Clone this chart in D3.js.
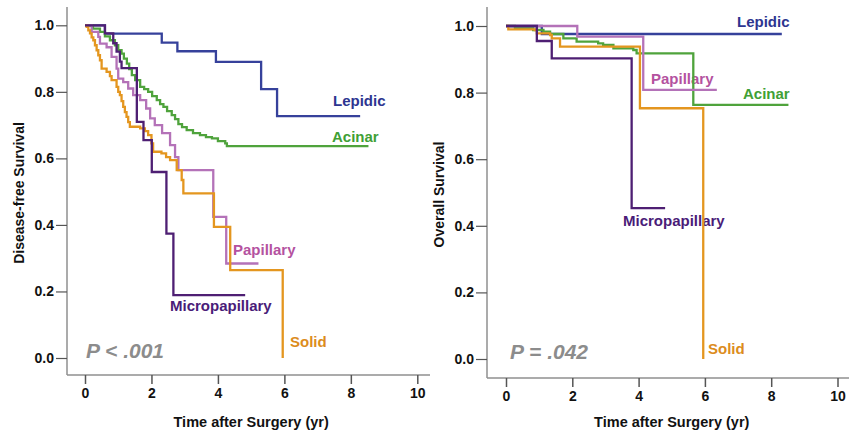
<!DOCTYPE html>
<html><head><meta charset="utf-8">
<script src="https://cdn.jsdelivr.net/npm/d3@7/dist/d3.min.js"></script>
<style>
body{margin:0;background:#fff}
svg{display:block;font-family:"Liberation Sans",Arial,Helvetica,sans-serif}
</style>
</head><body>
<svg id="chart" width="849" height="434"></svg>
<script>
// ---------- data ----------
const xTicks = [0, 2, 4, 6, 8, 10];
const yTicks = [0, 0.2, 0.4, 0.6, 0.8, 1.0];
const groups = ["Lepidic", "Acinar", "Papillary", "Micropapillary", "Solid"];
const panelTitles = ["Disease-free Survival", "Overall Survival"];
const xTitle = "Time after Surgery (yr)";
const pValues = ["P < .001", "P = .042"];

// Disease-free survival (left)
const dfsLepidicTime = [0.6, 2.31, 2.78, 3.94, 5.30, 5.78];
const dfsLepidicSurv = [0.975, 0.948, 0.922, 0.89, 0.808, 0.727];
const dfsLepidicEnd = 8.28;

const dfsAcinarTime = [0.24, 0.45, 0.6, 0.75, 0.9, 1.0, 1.1, 1.17, 1.26, 1.33, 1.41, 1.51, 1.66, 1.78, 1.9, 2.02, 2.16, 2.26, 2.36, 2.47, 2.61, 2.71, 2.81, 2.92, 3.06, 3.25, 3.46, 3.64, 3.82, 4.0, 4.22, 4.27];
const dfsAcinarSurv = [0.99, 0.98, 0.967, 0.955, 0.94, 0.925, 0.915, 0.90, 0.885, 0.868, 0.85, 0.835, 0.815, 0.808, 0.80, 0.787, 0.775, 0.763, 0.755, 0.742, 0.73, 0.718, 0.703, 0.694, 0.685, 0.676, 0.67, 0.664, 0.66, 0.652, 0.645, 0.637];
const dfsAcinarEnd = 8.53;

const dfsPapillaryTime = [0.2, 0.4, 0.45, 0.65, 0.8, 0.95, 1.0, 1.15, 1.3, 1.45, 1.66, 1.84, 1.96, 2.1, 2.32, 2.56, 2.71, 2.81, 3.86, 4.25];
const dfsPapillarySurv = [0.98, 0.965, 0.945, 0.934, 0.905, 0.87, 0.84, 0.829, 0.81, 0.79, 0.775, 0.75, 0.72, 0.70, 0.676, 0.64, 0.604, 0.565, 0.424, 0.284];
const dfsPapillaryEnd = 5.22;

const dfsMicroTime = [0.6, 0.85, 0.95, 1.05, 1.1, 1.56, 1.76, 2.01, 2.45, 2.66];
const dfsMicroSurv = [0.976, 0.946, 0.921, 0.891, 0.871, 0.71, 0.655, 0.559, 0.374, 0.189];
const dfsMicroEnd = 4.82;

const dfsSolidTime = [0.05, 0.1, 0.15, 0.2, 0.25, 0.3, 0.35, 0.4, 0.45, 0.5, 0.65, 0.75, 0.8, 0.95, 1.0, 1.05, 1.1, 1.15, 1.2, 1.25, 1.3, 1.35, 1.66, 1.8, 1.9, 2.0, 2.05, 2.3, 2.44, 2.56, 2.76, 2.91, 2.96, 3.88, 4.37, 5.95];
const dfsSolidSurv = [0.995, 0.985, 0.976, 0.964, 0.955, 0.94, 0.925, 0.91, 0.895, 0.87, 0.86, 0.847, 0.835, 0.815, 0.80, 0.79, 0.772, 0.755, 0.739, 0.725, 0.709, 0.695, 0.69, 0.682, 0.67, 0.645, 0.62, 0.615, 0.604, 0.595, 0.565, 0.535, 0.495, 0.394, 0.264, 0.0];
const dfsSolidEnd = 5.95;

// Overall survival (right)
const osLepidicTime = [1.08];
const osLepidicSurv = [0.976];
const osLepidicEnd = 8.32;

const osAcinarTime = [0.27, 0.82, 1.13, 1.33, 1.73, 2.13, 2.78, 2.93, 3.24, 3.84, 3.94, 5.65];
const osAcinarSurv = [0.994, 0.988, 0.983, 0.976, 0.963, 0.953, 0.948, 0.943, 0.933, 0.928, 0.918, 0.763];
const osAcinarEnd = 8.52;

const osPapillaryTime = [2.15, 4.14];
const osPapillarySurv = [0.968, 0.808];
const osPapillaryEnd = 6.36;

const osMicroTime = [0.93, 1.38, 3.79];
const osMicroSurv = [0.955, 0.903, 0.453];
const osMicroEnd = 4.8;

const osSolidTime = [0.07, 0.87, 0.93, 1.33, 1.38, 1.63, 4.04, 5.95];
const osSolidSurv = [0.99, 0.988, 0.978, 0.973, 0.963, 0.938, 0.753, 0.0];
const osSolidEnd = 5.95;

// ---------- styles ----------
const lineColors = {Lepidic: "#36419b", Acinar: "#4fa33c", Papillary: "#b472b8", Micropapillary: "#4e1f73", Solid: "#e4961f"};
const labelColors = {Lepidic: "#2d3590", Acinar: "#40a035", Papillary: "#b4529f", Micropapillary: "#4a1c78", Solid: "#dc8c1c"};

const panels = [
  {
    series: {
      Lepidic: [dfsLepidicTime, dfsLepidicSurv, dfsLepidicEnd],
      Acinar: [dfsAcinarTime, dfsAcinarSurv, dfsAcinarEnd],
      Papillary: [dfsPapillaryTime, dfsPapillarySurv, dfsPapillaryEnd],
      Micropapillary: [dfsMicroTime, dfsMicroSurv, dfsMicroEnd],
      Solid: [dfsSolidTime, dfsSolidSurv, dfsSolidEnd]
    },
    title: panelTitles[0], p: pValues[0],
    xRange: [85, 417.3], yRange: [358, 25.3],
    axisX: 67, axisY: 375, axisTop: 7, axisRight: 430, titleX: 23.5,
    labels: {Lepidic: [333, 106], Acinar: [332, 142], Papillary: [233, 255], Micropapillary: [170, 311], Solid: [290, 347]},
    pPos: [86, 358]
  },
  {
    series: {
      Lepidic: [osLepidicTime, osLepidicSurv, osLepidicEnd],
      Acinar: [osAcinarTime, osAcinarSurv, osAcinarEnd],
      Papillary: [osPapillaryTime, osPapillarySurv, osPapillaryEnd],
      Micropapillary: [osMicroTime, osMicroSurv, osMicroEnd],
      Solid: [osSolidTime, osSolidSurv, osSolidEnd]
    },
    title: panelTitles[1], p: pValues[1],
    xRange: [506, 837.5], yRange: [359, 26],
    axisX: 487, axisY: 378, axisTop: 7, axisRight: 849, titleX: 443.5,
    labels: {Lepidic: [737, 27], Acinar: [743, 99], Papillary: [651, 84], Micropapillary: [623, 226], Solid: [708, 354]},
    pPos: [510, 358.5]
  }
];

const drawOrder = ["Lepidic", "Acinar", "Papillary", "Solid", "Micropapillary"];
const svg = d3.select("#chart");
const axisColor = "#8f8f8f";

panels.forEach(pn => {
  const x = d3.scaleLinear().domain([0, 10]).range(pn.xRange);
  const y = d3.scaleLinear().domain([0, 1]).range(pn.yRange);
  const g = svg.append("g");

  // axis lines
  g.append("line").attr("x1", pn.axisX).attr("x2", pn.axisX).attr("y1", pn.axisTop).attr("y2", pn.axisY)
    .attr("stroke", axisColor).attr("stroke-width", 1.5);
  g.append("line").attr("x1", pn.axisX).attr("x2", pn.axisRight).attr("y1", pn.axisY).attr("y2", pn.axisY)
    .attr("stroke", axisColor).attr("stroke-width", 1.5);

  // x axis
  const xa = g.append("g").attr("transform", `translate(0,${pn.axisY})`)
    .call(d3.axisBottom(x).tickValues(xTicks).tickSize(9).tickPadding(4).tickFormat(d3.format("d")));
  xa.select(".domain").remove();
  xa.selectAll(".tick line").attr("stroke", "#555").attr("stroke-width", 1.5);
  xa.selectAll(".tick text").attr("fill", "#111").style("font-size", "14px").style("font-weight", "bold")
    .style("font-family", '"Liberation Sans",Arial,sans-serif');

  // y axis
  const ya = g.append("g").attr("transform", `translate(${pn.axisX},0)`)
    .call(d3.axisLeft(y).tickValues(yTicks).tickSize(11).tickPadding(2).tickFormat(d3.format(".1f")));
  ya.select(".domain").remove();
  ya.selectAll(".tick line").attr("stroke", "#555").attr("stroke-width", 1.2);
  ya.selectAll(".tick text").attr("fill", "#111").style("font-size", "14px").style("font-weight", "bold")
    .style("font-family", '"Liberation Sans",Arial,sans-serif');

  // titles
  g.append("text").attr("transform", `translate(${pn.titleX},${(pn.axisTop + pn.axisY) / 2 + 2}) rotate(-90)`)
    .attr("text-anchor", "middle").attr("fill", "#111").style("font-size", "14px").style("font-weight", "bold")
    .text(pn.title);
  g.append("text").attr("x", (pn.xRange[0] + pn.xRange[1]) / 2).attr("y", 427)
    .attr("text-anchor", "middle").attr("fill", "#111").style("font-size", "14.5px").style("font-weight", "bold")
    .text(xTitle);

  // P value
  g.append("text").attr("x", pn.pPos[0]).attr("y", pn.pPos[1]).attr("fill", "#8c8c8c")
    .style("font-size", "21px").style("font-weight", "bold").style("font-style", "italic").text(pn.p);

  // labels
  groups.forEach(k => {
    g.append("text").attr("x", pn.labels[k][0]).attr("y", pn.labels[k][1]).attr("fill", labelColors[k])
      .style("font-size", "15px").style("font-weight", "bold").text(k);
  });

  // curves
  const line = d3.line().x(d => x(d[0])).y(d => y(d[1])).curve(d3.curveStepAfter);
  drawOrder.forEach(k => {
    const [times, surv, end] = pn.series[k];
    const pts = [[0, 1]];
    times.forEach((t, i) => pts.push([t, surv[i]]));
    const last = pts[pts.length - 1];
    if (end > last[0]) pts.push([end, last[1]]);
    g.append("path").datum(pts).attr("d", line).attr("fill", "none")
      .attr("stroke", lineColors[k]).attr("stroke-width", 2.3).attr("stroke-linejoin", "miter");
  });
});
</script>
</body></html>
